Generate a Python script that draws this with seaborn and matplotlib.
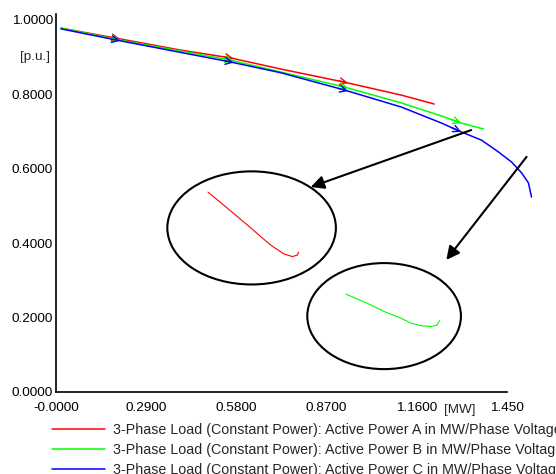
import numpy as np
import pandas as pd
import matplotlib
matplotlib.use('Agg')
import matplotlib.pyplot as plt
import seaborn as sns
from matplotlib.patches import Ellipse

# Data
p_a = [0.016, 0.206, 0.400, 0.561, 0.723, 0.926, 1.110, 1.216]
v_a = [0.978, 0.949, 0.919, 0.898, 0.868, 0.833, 0.798, 0.774]
p_b = [0.016, 0.206, 0.561, 0.723, 0.926, 1.110, 1.239, 1.303, 1.374]
v_b = [0.978, 0.946, 0.892, 0.860, 0.820, 0.777, 0.742, 0.723, 0.707]
p_c = [0.016, 0.206, 0.561, 0.723, 0.926, 1.110, 1.239, 1.303, 1.368, 1.423,
       1.465, 1.497, 1.519, 1.529]
v_c = [0.976, 0.944, 0.887, 0.858, 0.812, 0.766, 0.723, 0.699, 0.677, 0.645,
       0.618, 0.589, 0.562, 0.524]

# zoomed sketches inside the circles
zoom_a_x = [0.489, 0.551, 0.615, 0.690, 0.733, 0.760, 0.776, 0.780]
zoom_a_y = [0.537, 0.494, 0.449, 0.395, 0.371, 0.364, 0.368, 0.376]
zoom_b_x = [0.932, 1.002, 1.056, 1.110, 1.142, 1.174, 1.206, 1.226, 1.233]
zoom_b_y = [0.263, 0.238, 0.216, 0.198, 0.185, 0.178, 0.176, 0.180, 0.192]

chevron_x = [0.206, 0.571, 0.939, 1.303]
x_ticks = [0.0, 0.29, 0.58, 0.87, 1.16, 1.45]
x_labels = ['-0.0000', '0.2900', '0.5800', '0.8700', '1.1600', '1.450']
y_ticks = [0.0, 0.2, 0.4, 0.6, 0.8, 1.0]
y_labels = ['0.0000', '0.2000', '0.4000', '0.6000', '0.8000', '1.0000']

names = ['3-Phase Load (Constant Power): Active Power A in MW/Phase Voltage A in p.u.',
         '3-Phase Load (Constant Power): Active Power B in MW/Phase Voltage B in p.u.',
         '3-Phase Load (Constant Power): Active Power C in MW/Phase Voltage C in p.u.']
colors = ['#ff0000', '#00ff00', '#0000ff']

df = pd.concat([
    pd.DataFrame({'P': p_a, 'V': v_a, 'series': names[0]}),
    pd.DataFrame({'P': p_b, 'V': v_b, 'series': names[1]}),
    pd.DataFrame({'P': p_c, 'V': v_c, 'series': names[2]}),
], ignore_index=True)

sns.set_style('white')
plt.rcParams['font.family'] = ['Liberation Sans', 'DejaVu Sans']

fig = plt.figure(figsize=(5.56, 4.74), dpi=100)
ax = fig.add_axes([0.1007, 0.173, 0.8111, 0.7975])

sns.lineplot(data=df, x='P', y='V', hue='series', palette=colors, sort=False,
             estimator=None, lw=1.1, ax=ax, legend=False)
for line in ax.lines:
    line.set_clip_on(False)

# direction chevrons along the curves
for px, vy, col in [(p_a, v_a, colors[0]), (p_b, v_b, colors[1]), (p_c, v_c, colors[2])]:
    for cx in chevron_x:
        if cx > max(px):
            continue
        x0 = cx - 0.03
        ax.annotate('', xy=(cx, np.interp(cx, px, vy)), xytext=(x0, np.interp(x0, px, vy)),
                    arrowprops=dict(arrowstyle='->', color=col, lw=1.0, mutation_scale=12,
                                    shrinkA=0, shrinkB=0))

# circles with zoomed details
ax.add_patch(Ellipse((0.629, 0.441), 0.542, 0.304, fill=False, ec='black', lw=1.5))
ax.add_patch(Ellipse((1.055, 0.204), 0.494, 0.285, fill=False, ec='black', lw=1.5))
ax.plot(zoom_a_x, zoom_a_y, color=colors[0], lw=0.8)
ax.plot(zoom_b_x, zoom_b_y, color=colors[1], lw=0.8)

ax.annotate('', xy=(0.819, 0.551), xytext=(1.335, 0.704),
            arrowprops=dict(arrowstyle='-|>', color='black', lw=1.5, mutation_scale=20,
                            shrinkA=0, shrinkB=0))
ax.annotate('', xy=(1.255, 0.355), xytext=(1.513, 0.632),
            arrowprops=dict(arrowstyle='-|>', color='black', lw=1.5, mutation_scale=20,
                            shrinkA=0, shrinkB=0))

ax.set_xlim(0, 1.45)
ax.set_ylim(0, 1.016)
ax.set_xticks(x_ticks)
ax.set_xticklabels(x_labels)
ax.set_yticks(y_ticks)
ax.set_yticklabels(y_labels)
ax.tick_params(length=0, labelsize=9.7, colors='black')
ax.tick_params(axis='y', pad=2)
ax.tick_params(axis='x', pad=7.5)
ax.set_xlabel('')
ax.set_ylabel('')
for s in ['top', 'right']:
    ax.spines[s].set_visible(False)
for s in ['left', 'bottom']:
    ax.spines[s].set_color('black')
    ax.spines[s].set_linewidth(1.2)

ax.text(-0.018, 0.90, '[p.u.]', ha='right', va='center', fontsize=9.7)
ax.text(1.297, -0.033, '[MW]', ha='center', va='top', fontsize=9.7)

# legend below the plot, cut by the figure edge as in the original
handles = [plt.Line2D([], [], color=c, lw=1.1) for c in colors]
fig.legend(handles, names, loc='upper left', bbox_to_anchor=(0.0935, 0.108),
           frameon=False, fontsize=10.3, handlelength=3.7, handletextpad=0.56,
           labelspacing=0.43, borderaxespad=0, borderpad=0)

fig.savefig('out.png', dpi=100)
